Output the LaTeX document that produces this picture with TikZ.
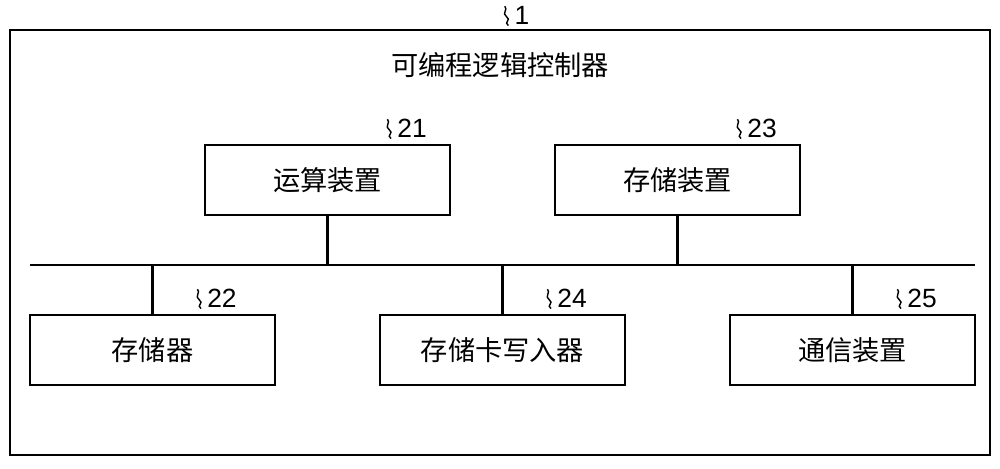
\documentclass[tikz,border=0pt]{standalone}
\usepackage{fontspec}
\setmainfont{Liberation Sans}
\newfontfamily\cjk{Noto Sans CJK SC}
\usetikzlibrary{positioning}
\begin{document}
\begin{tikzpicture}[x=0.02cm, y=-0.02cm, line width=1.2pt,
		unit/.style = {draw, minimum width = 4.9cm, minimum height = 1.4cm, font = \cjk\fontsize{15.5}{17}\selectfont},
		refnum/.style = {inner sep = 1pt, font = \fontsize{15}{17}\selectfont}]
	\useasboundingbox (0,0) rectangle (1000,468);

	%frame
	\node[draw, minimum width = 19.6cm, minimum height = 8.5cm] (plc) at (500,242.5) {};
	\node[font = \cjk\fontsize{15.5}{17}\selectfont] (title) at (500,65) {可编程逻辑控制器};
	\node[refnum] (n1) at (522,15) {1};

	%units
	\node[unit] (alu) at (327.5,180) {运算装置};
	\node[unit] (storage) at (677.5,180) {存储装置};
	\node[unit] (memory) at (152.5,350) {存储器};
	\node[unit] (cardwriter) at (502.5,350) {存储卡写入器};
	\node[unit] (comm) at (852.5,350) {通信装置};

	%reference numbers
	\node[refnum] (n21) at (412,128) {21};
	\node[refnum] (n23) at (762,128) {23};
	\node[refnum] (n22) at (222,298) {22};
	\node[refnum] (n24) at (572,298) {24};
	\node[refnum] (n25) at (922,298) {25};

	%bus
	\coordinate (busL) at (30,265);
	\coordinate (busR) at (975,265);
	\draw (busL) -- (busR);
	\foreach \u in {alu, storage}
		\draw (\u.south) -- (\u.south |- busL);
	\foreach \u in {memory, cardwriter, comm}
		\draw (\u.north) -- (\u.north |- busL);

	% squiggles
	\foreach \n in {n1, n21, n23, n22, n24, n25}
		\draw[line width = 0.8pt] ([xshift=-2pt, yshift=-6pt]\n.west) .. controls +(-3pt,2pt) and +(3pt,-2pt) .. ++(-1pt,5pt) .. controls +(-3pt,2pt) and +(2pt,-2pt) .. ++(-1pt,6pt);
\end{tikzpicture}
\end{document}
